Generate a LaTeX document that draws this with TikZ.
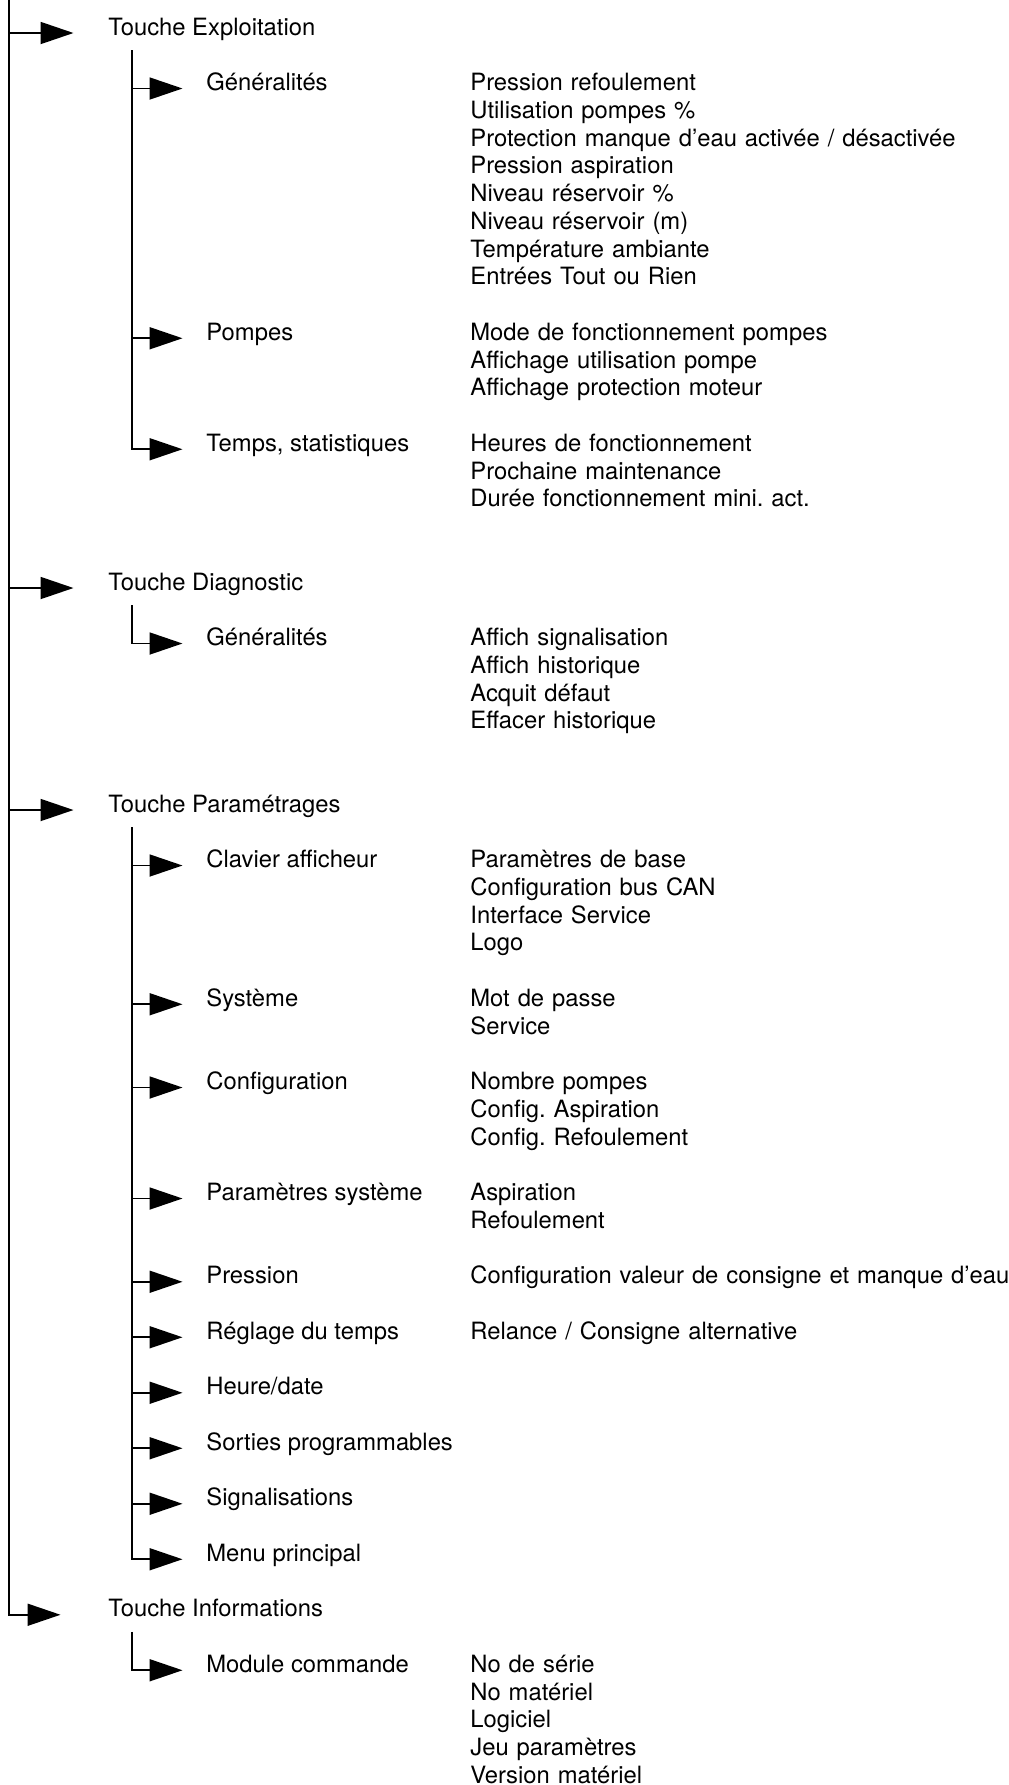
\documentclass[tikz,border=0pt]{standalone}
\usepackage{fontspec}
\setmainfont{TeX Gyre Heros}
\frenchspacing
\usetikzlibrary{arrows.meta,positioning}
\tikzset{node distance=27.75pt, auto,
  every node/.style={font=\fontsize{11.9pt}{13.875pt}\selectfont},
  entry/.style={inner sep=0pt, anchor=base west, text height=6pt, text depth=4pt},
  items/.style={inner sep=0pt, anchor=base west, text width=272pt, align=left},
  key/.style={line width=0.9pt, -{Triangle[length=16.5pt,width=11pt]}, shorten >=17.25pt},
  subkey/.style={key, shorten >=11.75pt}}

\begin{document}
\begin{tikzpicture}
                \useasboundingbox (0,0) rectangle (504pt,-892.5pt);
                \coordinate (top) at (4.5pt,0);
                \node (expl)  [entry] at (54pt,-17.5pt) {Touche Exploitation};
                \node (diag)  [below=277.5pt of expl.base west, entry] {Touche Diagnostic};
                \node (param) [below=111pt of diag.base west, entry] {Touche Paramétrages};
                \node (info)  [below=402.375pt of param.base west, entry] {Touche Informations};

                \node (e1) [below right=27.75pt and 49pt of expl.base west, entry] {Généralités};
                \node (e2) [below=124.875pt of e1.base west, entry] {Pompes};
                \node (e3) [below=55.5pt of e2.base west, entry] {Temps, statistiques};
                \node (le1) [right=132pt of e1.base west, items] {Pression refoulement\\Utilisation pompes \%\\Protection manque d’eau activée / désactivée\\Pression aspiration\\Niveau réservoir \%\\Niveau réservoir (m)\\Température ambiante\\Entrées Tout ou Rien};
                \node (le2) [right=132pt of e2.base west, items] {Mode de fonctionnement pompes\\Affichage utilisation pompe\\Affichage protection moteur};
                \node (le3) [right=132pt of e3.base west, items] {Heures de fonctionnement\\Prochaine maintenance\\Durée fonctionnement mini. act.};

                \node (d1) [below right=27.75pt and 49pt of diag.base west, entry] {Généralités};
                \node (ld1) [right=132pt of d1.base west, items] {Affich signalisation\\Affich historique\\Acquit défaut\\Effacer historique};

                \node (p1) [below right=27.75pt and 49pt of param.base west, entry] {Clavier afficheur};
                \node (p2) [below=69.375pt of p1.base west, entry] {Système};
                \node (p3) [below=41.625pt of p2.base west, entry] {Configuration};
                \node (p4) [below=55.5pt of p3.base west, entry] {Paramètres système};
                \node (p5) [below=41.625pt of p4.base west, entry] {Pression};
                \node (p6) [below=of p5.base west, entry] {Réglage du temps};
                \node (p7) [below=of p6.base west, entry] {Heure/date};
                \node (p8) [below=of p7.base west, entry] {Sorties programmables};
                \node (p9) [below=of p8.base west, entry] {Signalisations};
                \node (p10) [below=of p9.base west, entry] {Menu principal};
                \node (lp1) [right=132pt of p1.base west, items] {Paramètres de base\\Configuration bus CAN\\Interface Service\\Logo};
                \node (lp2) [right=132pt of p2.base west, items] {Mot de passe\\Service};
                \node (lp3) [right=132pt of p3.base west, items] {Nombre pompes\\Config. Aspiration\\Config. Refoulement};
                \node (lp4) [right=132pt of p4.base west, items] {Aspiration\\Refoulement};
                \node (lp5) [right=132pt of p5.base west, items] {Configuration valeur de consigne et manque d’eau};
                \node (lp6) [right=132pt of p6.base west, items] {Relance / Consigne alternative};

                \node (i1) [below right=27.75pt and 49pt of info.base west, entry] {Module commande};
                \node (li1) [right=132pt of i1.base west, items] {No de série\\No matériel\\Logiciel\\Jeu paramètres\\Version matériel};

                \draw[key] (top) |- (expl);
                \draw[key] (top) |- (diag);
                \draw[key] (top) |- (param);
                \draw[key, shorten >=23.75pt] (top) |- (info);

                \coordinate (se) at ([xshift=12pt,yshift=-7.5pt]expl.base west);
                \coordinate (sd) at ([xshift=12pt,yshift=-7.5pt]diag.base west);
                \coordinate (sp) at ([xshift=12pt,yshift=-7.5pt]param.base west);
                \coordinate (si) at ([xshift=12pt,yshift=-7.5pt]info.base west);
                \draw[subkey] (se) |- (e1);
                \draw[subkey] (se) |- (e2);
                \draw[subkey] (se) |- (e3);
                \draw[subkey] (sd) |- (d1);
                \draw[subkey] (sp) |- (p1);
                \draw[subkey] (sp) |- (p2);
                \draw[subkey] (sp) |- (p3);
                \draw[subkey] (sp) |- (p4);
                \draw[subkey] (sp) |- (p5);
                \draw[subkey] (sp) |- (p6);
                \draw[subkey] (sp) |- (p7);
                \draw[subkey] (sp) |- (p8);
                \draw[subkey] (sp) |- (p9);
                \draw[subkey] (sp) |- (p10);
                \draw[subkey] (si) |- (i1);
              \end{tikzpicture}
\end{document}
